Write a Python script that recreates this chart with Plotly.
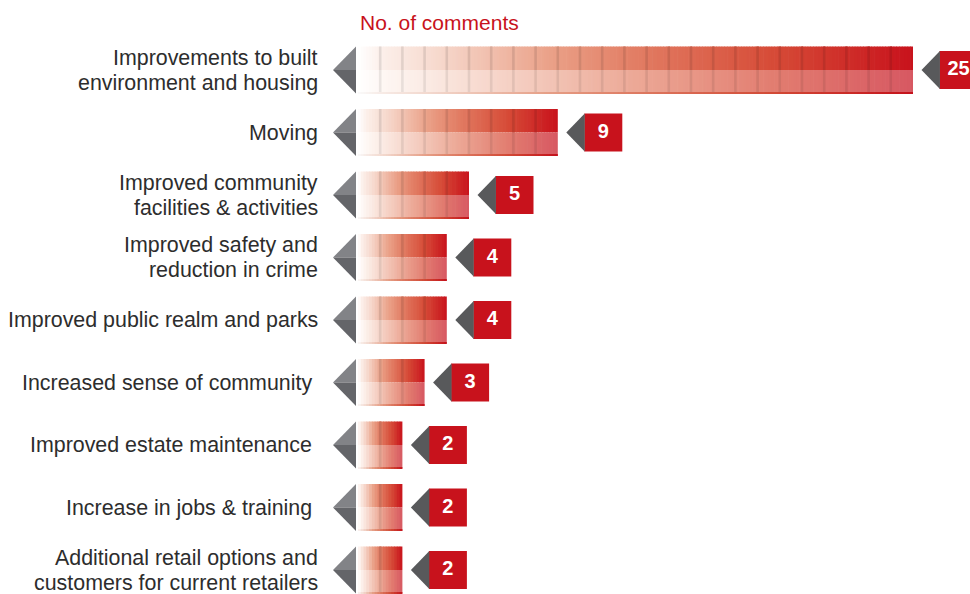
import plotly.graph_objects as go

# ---- data -------------------------------------------------------------
categories = [
    "Improvements to built<br>environment and housing",
    "Moving",
    "Improved community<br>facilities & activities",
    "Improved safety and<br>reduction in crime",
    "Improved public realm and parks",
    "Increased sense of community\u00a0",
    "Improved estate maintenance\u00a0",
    "Increase in jobs & training\u00a0",
    "Additional retail options and<br>customers for current retailers",
]
comments = [25, 9, 5, 4, 4, 3, 2, 2, 2]
axis_title = "No. of comments"

# ---- styling constants ----------------------------------------------------
W, H = 970, 594
PLOT_LEFT = 325          # px where the plotting area starts
ZERO_PX = 358            # px of x = 0
PX_PER_UNIT = 22.2       # px per comment
ROW_PX = 62.5            # px between rows
FIRST_ROW_PX = 70        # px of the first row centre
LABEL_RIGHT_PX = 320     # right edge of the category labels
LINE_PX = 25             # line spacing of two-line labels

RED = "rgb(200,18,28)"
BADGE_GREY = "rgb(88,89,91)"
TRI_TOP = "rgb(130,131,135)"
TRI_BOT = "rgb(100,101,105)"
LABEL_COLOR = "rgb(45,45,45)"
FONT = "Liberation Sans, Arial, sans-serif"

def px_x(p):
    return p / PX_PER_UNIT

def px_y(p):
    return p / ROW_PX

HALF_H = px_y(23.5)      # half height of a bar
SUBSTEPS = 8             # gradient slices per unit

TOP_STOPS = [
    (0.00, (255, 255, 255)),
    (0.04, (252, 240, 235)),
    (0.15, (246, 215, 203)),
    (0.35, (234, 160, 135)),
    (0.50, (226, 125, 100)),
    (0.75, (214, 75, 55)),
    (1.00, (200, 18, 28)),
]
BOT_STOPS = [
    (0.00, (255, 255, 255)),
    (0.04, (254, 248, 245)),
    (0.15, (250, 230, 222)),
    (0.35, (242, 195, 180)),
    (0.50, (236, 168, 150)),
    (0.75, (226, 125, 112)),
    (1.00, (215, 88, 98)),
]

def grad(stops, f, k=1.0):
    f = max(0.0, min(1.0, f))
    for (f0, c0), (f1, c1) in zip(stops[:-1], stops[1:]):
        if f <= f1:
            t = (f - f0) / (f1 - f0) if f1 > f0 else 0
            c = [(a + (b - a) * t) * k for a, b in zip(c0, c1)]
            return "rgb(%d,%d,%d)" % tuple(round(v) for v in c)
    c = [v * k for v in stops[-1][1]]
    return "rgb(%d,%d,%d)" % tuple(round(v) for v in c)

rows = list(range(len(categories)))

# gradient slices for the top (darker) and bottom (lighter) halves
top = dict(y=[], base=[], x=[], color=[])
bot = dict(y=[], base=[], x=[], color=[])
edge = dict(y=[], base=[], x=[], color=[])
divs_top = dict(y=[], base=[], x=[], color=[])
divs_bot = dict(y=[], base=[], x=[], color=[])
step = 1.0 / SUBSTEPS
div_w = px_x(2.6)
for r, v in zip(rows, comments):
    n = v * SUBSTEPS
    for i in range(n):
        b = i * step
        f = (b + step / 2) / v
        w = min(step + 0.03, v - b)
        for d, stops in ((top, TOP_STOPS), (bot, BOT_STOPS)):
            d["y"].append(r)
            d["base"].append(b)
            d["x"].append(w)
            d["color"].append(grad(stops, f))
        edge["y"].append(r)
        edge["base"].append(b)
        edge["x"].append(w)
        edge["color"].append(grad(TOP_STOPS, f, 0.98))
    for k in range(1, v):
        f = k / v
        for d, stops, m in ((divs_top, TOP_STOPS, 0.9), (divs_bot, BOT_STOPS, 0.92)):
            d["y"].append(r)
            d["base"].append(k - div_w / 2)
            d["x"].append(div_w)
            d["color"].append(grad(stops, f, m))

fig = go.Figure()

def add_bars(d, offset, width):
    fig.add_trace(go.Bar(
        orientation="h", y=d["y"], x=d["x"], base=d["base"],
        width=width, offset=offset,
        marker=dict(color=d["color"], line=dict(width=0)),
        hoverinfo="skip", showlegend=False,
    ))

add_bars(top, -HALF_H, HALF_H)
add_bars(bot, 0.0, HALF_H)
add_bars(divs_top, -HALF_H, HALF_H)
add_bars(divs_bot, 0.0, HALF_H)
add_bars(edge, HALF_H - px_y(1.5), px_y(1.5))

# value badges: grey pointer + red box with the count
BADGE_GAP = px_x(8.5)
POINTER_W = px_x(18)
BOX_W = px_x(38)
BOX_HALF = px_y(19)
fig.add_trace(go.Bar(
    orientation="h", y=rows, x=[BOX_W] * len(rows),
    base=[v + BADGE_GAP + POINTER_W for v in comments],
    width=2 * BOX_HALF, marker=dict(color=RED, line=dict(width=0)),
    hoverinfo="skip", showlegend=False,
))
fig.add_trace(go.Scatter(
    x=[v + BADGE_GAP + POINTER_W + BOX_W / 2 for v in comments], y=rows,
    mode="text", text=[str(v) for v in comments],
    textfont=dict(family=FONT, size=20, color="white", weight="bold"),
    textposition="middle center", hoverinfo="skip", showlegend=False,
))

shapes = []
tip_x = px_x(333 - ZERO_PX)
base_x = px_x(356 - ZERO_PX)
for r, v in zip(rows, comments):
    # two-tone pointer at the start of each bar
    shapes.append(dict(type="path", xref="x", yref="y", line=dict(width=0), fillcolor=TRI_TOP,
                       path=f"M {tip_x},{r} L {base_x},{r - HALF_H} L {base_x},{r} Z"))
    shapes.append(dict(type="path", xref="x", yref="y", line=dict(width=0), fillcolor=TRI_BOT,
                       path=f"M {tip_x},{r} L {base_x},{r} L {base_x},{r + HALF_H} Z"))
    # grey pointer of the value badge
    x0 = v + BADGE_GAP
    x1 = x0 + POINTER_W + 0.02
    shapes.append(dict(type="path", xref="x", yref="y", line=dict(width=0), fillcolor=BADGE_GREY,
                       path=f"M {x0},{r} L {x1},{r - BOX_HALF} L {x1},{r + BOX_HALF} Z"))

# category labels, right aligned, one annotation per text line
label_x = (LABEL_RIGHT_PX - PLOT_LEFT) / (W - PLOT_LEFT)
annotations = []
for r, cat in zip(rows, categories):
    lines = cat.split("<br>")
    n = len(lines)
    for i, line in enumerate(lines):
        annotations.append(dict(
            x=label_x, y=r, xref="paper", yref="y",
            yshift=-(i - (n - 1) / 2) * LINE_PX,
            text=line, showarrow=False, xanchor="right", yanchor="middle",
            font=dict(family=FONT, size=21.4, color=LABEL_COLOR),
        ))
annotations.append(dict(
    x=px_x(360 - ZERO_PX), y=px_y(22 - FIRST_ROW_PX), xref="x", yref="y",
    text=axis_title, showarrow=False, xanchor="left", yanchor="middle",
    xshift=-2, font=dict(family=FONT, size=21, color=RED),
))

fig.update_layout(
    width=W, height=H,
    margin=dict(l=PLOT_LEFT, r=0, t=0, b=0),
    paper_bgcolor="white", plot_bgcolor="white",
    barmode="overlay",
    shapes=shapes,
    annotations=annotations,
    xaxis=dict(range=[px_x(PLOT_LEFT - ZERO_PX), px_x(W - ZERO_PX)],
               visible=False, fixedrange=True),
    yaxis=dict(range=[px_y(H - FIRST_ROW_PX), px_y(-FIRST_ROW_PX)],
               showticklabels=False, ticks="",
               showgrid=False, zeroline=False, showline=False,
               fixedrange=True),
)

fig.write_html("out.html")
